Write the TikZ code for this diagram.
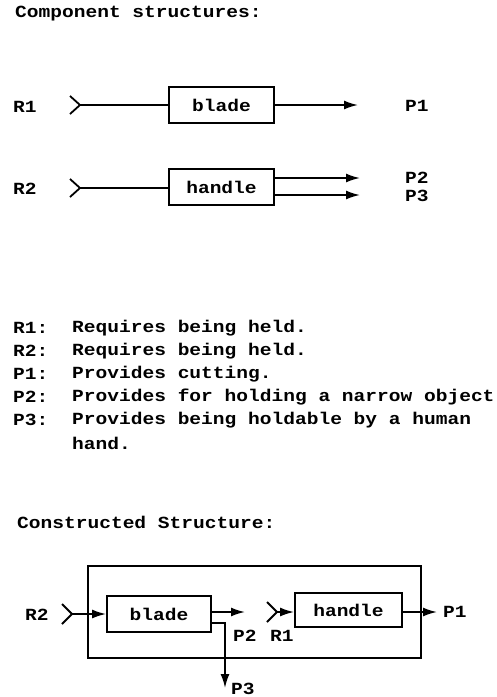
\documentclass[tikz,border=0pt]{standalone}
\usepackage{fontspec}
\setmonofont[FakeStretch=1.15]{Liberation Mono}
\usetikzlibrary{arrows.meta}
\begin{document}
\begin{tikzpicture}[x=1pt,y=-1pt,
  every node/.style={font=\ttfamily\bfseries\fontsize{17}{20}\selectfont, inner sep=0pt},
  box/.style={draw, line width=1.8pt, minimum width=105pt, minimum height=36pt},
  ln/.style={line width=1.8pt},
  arr/.style={line width=1.8pt, -{Latex[length=14pt,width=9pt]}},
  txt/.style={anchor=west}]
\useasboundingbox (0,0) rectangle (496,697);
% titles
\node[txt] (t1) at (15,14) {Component structures:};
% top row
\node[box] (blade1) at (221.5,105) {blade};
\node[txt] (r1) at (13,107) {R1};
\coordinate (c1) at (80,105);
\coordinate (p1e) at (358,105);
\node[txt] (p1) at (405,106) {P1};
\draw[ln] ([shift={(-10,-9)}]c1) -- (c1) -- ([shift={(-10,9)}]c1);
\draw[ln] (c1) -- (blade1.west);
\draw[arr] (blade1.east) -- (p1e);
% second row
\node[box] (handle1) at (221.5,187) {handle};
\node[txt] (r2) at (13,189) {R2};
\coordinate (c2) at (80,188);
\coordinate (p2e) at (360,178);
\coordinate (p3e) at (360,195);
\node[txt] (p2) at (405,178) {P2};
\node[txt] (p3) at (405,196) {P3};
\draw[ln] ([shift={(-10,-9)}]c2) -- (c2) -- ([shift={(-10,9)}]c2);
\draw[ln] (c2) -- (handle1.west |- c2);
\draw[arr] (handle1.east |- p2e) -- (p2e);
\draw[arr] (handle1.east |- p3e) -- (p3e);
% legend
\node[txt] (lr1) at (13,328) {R1:};
\node[txt] (tr1) at (72,328) {Requires being held.};
\node[txt] (lr2) at (13,351) {R2:};
\node[txt] (tr2) at (72,351) {Requires being held.};
\node[txt] (lp1) at (13,374) {P1:};
\node[txt] (tp1) at (72,374) {Provides cutting.};
\node[txt] (lp2) at (13,397) {P2:};
\node[txt] (tp2) at (72,397) {Provides for holding a narrow object};
\node[txt] (lp3) at (13,420) {P3:};
\node[txt] (tp3) at (72,420) {Provides being holdable by a human};
\node[txt] (tp3b) at (72,443) {hand.};
% constructed
\node[txt] (t2) at (17,522) {Constructed Structure:};
\node[draw, line width=1.8pt, minimum width=333pt, minimum height=92pt] (outer) at (254.5,612) {};
\node[box, minimum width=104pt] (blade2) at (159,614) {blade};
\node[box, minimum width=107pt, minimum height=34pt] (handle2) at (348.5,610) {handle};
\node[txt] (r2b) at (25,615) {R2};
\coordinate (c3) at (72,614);
\draw[ln] ([shift={(-10,-10)}]c3) -- (c3) -- ([shift={(-10,10)}]c3);
\draw[arr] (c3) -- (blade2.west |- c3);
\coordinate (p2c) at (245,612);
\draw[arr] (blade2.east |- p2c) -- (p2c);
\node[txt] (p2b) at (233,636) {P2};
\coordinate (c4) at (277,612);
\draw[ln] ([shift={(-10,-10)}]c4) -- (c4) -- ([shift={(-10,10)}]c4);
\draw[arr] (c4) -- (handle2.west |- c4);
\node[txt] (r1b) at (270,636) {R1};
\coordinate (p1c) at (437,612);
\draw[arr] (handle2.east |- p1c) -- (p1c);
\node[txt] (p1b) at (443,612) {P1};
\coordinate (p3k) at (225,623);
\coordinate (p3d) at (225,688);
\draw[arr] (blade2.east |- p3k) -- (p3k) -- (p3d);
\node[txt] (p3b) at (231,689) {P3};
\end{tikzpicture}
\end{document}
